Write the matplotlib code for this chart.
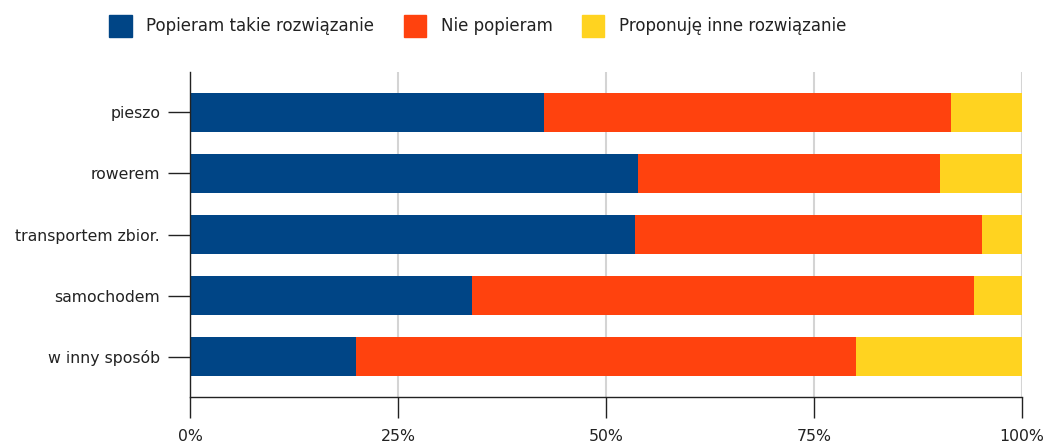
import matplotlib
matplotlib.use("Agg")
import matplotlib.pyplot as plt
import numpy as np
from matplotlib.patches import Patch

categories = ["pieszo", "rowerem", "transportem zbior.", "samochodem", "w inny sposób"]
series_names = ["Popieram takie rozwiązanie", "Nie popieram", "Proponuję inne rozwiązanie"]
popieram = [42.5, 53.9, 53.5, 33.9, 20.0]
nie_popieram = [49.0, 36.2, 41.7, 60.3, 60.0]
inne = [8.5, 9.9, 4.8, 5.8, 20.0]
x_ticks = [0, 25, 50, 75, 100]
x_tick_labels = ["0%", "25%", "50%", "75%", "100%"]
colors = ["#004586", "#ff420e", "#ffd320"]

plt.rcParams['font.family'] = ['DejaVu Sans']
W, H = 1045, 446
fig = plt.figure(figsize=(W / 100, H / 100), dpi=100)
ax = fig.add_axes([190 / W, 1 - 397 / H, (1022 - 190) / W, (397 - 72) / H])

y = np.arange(len(categories))
data = [popieram, nie_popieram, inne]
left = np.zeros(len(categories))
for vals, c, name in zip(data, colors, series_names):
    ax.barh(y, vals, left=left, height=0.645, color=c, label=name, zorder=3)
    left += np.array(vals)

ax.set_ylim(len(categories) - 0.34, -0.66)
ax.set_xlim(0, 100)
ax.set_yticks(y)
ax.set_yticklabels(categories, fontsize=11.3, color="#222222")
ax.set_xticks(x_ticks)
ax.set_xticklabels(x_tick_labels, fontsize=11.3, color="#222222")
ax.tick_params(axis="y", length=16, width=1, pad=5.5, color="#222222")
ax.tick_params(axis="x", length=15, width=1, pad=8, color="#222222")
ax.grid(axis="x", color="#d4d4d4", linewidth=1.5, zorder=0)
for s in ["top", "right"]:
    ax.spines[s].set_visible(False)
for s in ["left", "bottom"]:
    ax.spines[s].set_color("#222222")
    ax.spines[s].set_linewidth(1)
    ax.spines[s].set_zorder(4)

handles = [Patch(facecolor=c, edgecolor=c, label=n) for c, n in zip(colors, series_names)]
fig.legend(handles=handles, loc="center left", bbox_to_anchor=(101 / W, 1 - 26 / H),
           ncol=3, frameon=False, fontsize=12, handlelength=1.33, handleheight=1.74,
           handletextpad=0.9, columnspacing=1.75, borderpad=0, labelcolor="#222222")

fig.savefig("out.png", dpi=100)
